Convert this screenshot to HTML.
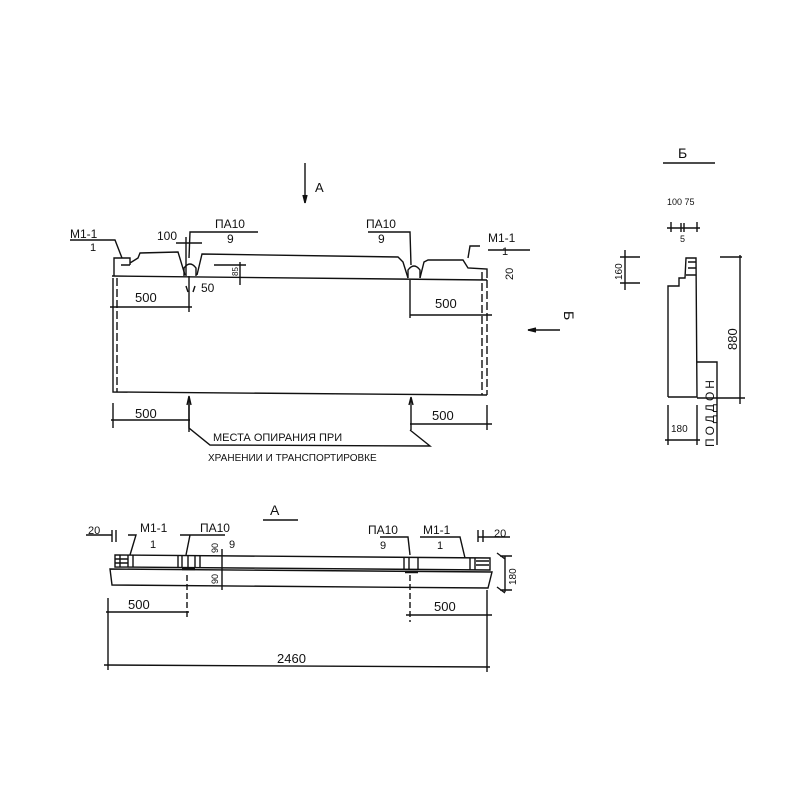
<!DOCTYPE html>
<html><head><meta charset="utf-8"><style>
html,body{margin:0;padding:0;background:#fff}
svg{display:block}
text{font-family:"Liberation Sans","DejaVu Sans",sans-serif;fill:#111}
</style></head><body>
<svg width="800" height="800" viewBox="0 0 800 800" xmlns="http://www.w3.org/2000/svg">
<g stroke="#111" stroke-width="1.4" fill="none">
<line x1="305" y1="163" x2="305" y2="203"/>
<path d="M303,195 L305,203 L307,195" fill="#111"/>
<path d="M114,276 L114,258 L130,258 L130,265 M121,265 L130,265 M130,263 L138,258 L140,253 L178,252 L185,275 M197,275 L202,254 L398,257 L403,262 L408,278 M420,278 L424,262 L428,260 L463,260 L468,268 L487,269 L487,278"/>
<path d="M184,276 L184,268 Q190,260 196,268 L196,276"/>
<path d="M408,278 L408,270 Q414,262 420,270 L420,278"/>
<path d="M112,276 L487,280"/>
<path d="M113,278 L113,392 L487,395"/>
<path d="M117,278 L117,392" stroke-dasharray="8,3"/>
<path d="M487,280 L487,395 M482,272 L482,395" stroke-dasharray="8,3"/>
<path d="M70,240 L115,240 L122,258"/>
<path d="M480,246 L470,246 L468,258"/>
<path d="M488,250 L530,250"/>
<path d="M212,232 L190,232 L189,258"/>
<path d="M212,232 L258,232"/>
<path d="M368,232 L410,232 L411,265"/>
<path d="M176,243 L202,243 M186,237 L186,276"/>
<path d="M214,265 L246,265 M240,262 L240,285"/>
<path d="M110,307 L192,307 M189,276 L189,312"/>
<path d="M186,286 L188,292 M195,286 L193,292"/>
<path d="M410,315 L492,315 M410,280 L410,318"/>
<path d="M113,403 L113,428 M111,420 L190,420 M189,398 L189,432"/>
<path d="M411,398 L411,430 M410,424 L492,424 M487,405 L487,430"/>
<path d="M189,400 L189,428 L210,445 L430,446 L410,430"/>
<path d="M187,405 L189,396 L191,405 M409,405 L411,397 L413,405"/>
<line x1="528" y1="330" x2="560" y2="330"/>
<path d="M536,328 L528,330 L536,332" fill="#111"/>
<path d="M663,163 L715,163"/>
<path d="M263,520 L298,520"/>
<path d="M115,555 L490,558 L490,570 L115,567 Z"/>
<path d="M110,569 L492,572 L488,588 L112,585 Z"/>
<path d="M120,555 L120,567 M128,555 L128,567 M133,555 L133,567 M178,556 L178,568 M182,556 L182,568 M188,556 L188,568 M195,556 L195,568 M200,556 L200,568 M404,557 L404,570 M409,557 L409,570 M418,557 L418,570 M470,558 L470,570 M475,558 L475,570"/>
<path d="M115,559 L128,559 M115,563 L128,563 M476,561 L489,561 M476,565 L489,565"/>
<path d="M182,569 L195,569 M405,572 L418,572" stroke-width="2.5"/>
<path d="M128,535 L136,535 L130,555 M180,535 L225,535 M190,535 L186,555 M380,537 L408,537 L410,555 M420,537 L460,537 L465,558"/>
<path d="M86,535 L112,535 M112,530 L112,542 M116,530 L116,542"/>
<path d="M478,537 L510,537 M478,530 L478,542 M483,530 L483,542"/>
<path d="M222,549 L222,590"/>
<path d="M187,575 L187,620" stroke-dasharray="6,3"/>
<path d="M410,575 L410,622" stroke-dasharray="6,3"/>
<path d="M108,598 L108,670 M106,612 L189,612"/>
<path d="M406,615 L492,615 M487,590 L487,672"/>
<path d="M104,665 L490,667"/>
<path d="M500,556 L505,556 L505,592 M505,556 L512,556 M500,590 L512,590 M497,553 L505,559 M497,587 L505,593"/>
<path d="M671,232 L671,222 M697,232 L697,222 M667,228 L700,228 M681,223 L681,232 M684,223 L684,232"/>
<path d="M668,397 L668,286 L679,286 L679,278 L685,278 L686,258 L696,258 L697,397 L668,397"/>
<path d="M688,262 L696,262 M688,268 L696,268 M686,275 L696,275"/>
<path d="M697,362 L717,362 L717,445"/>
<path d="M720,257 L742,257 M740,255 L740,404 M697,398 L745,398"/>
<path d="M620,257 L640,257 M620,283 L640,283 M625,250 L625,290"/>
<path d="M668,405 L668,445 M697,405 L697,445 M665,440 L700,440"/>
</g>
<g font-size="13">
<text x="315" y="192">А</text>
<text x="70" y="238" font-size="12">М1-1</text>
<text x="90" y="251" font-size="11">1</text>
<text x="157" y="240" font-size="12">100</text>
<text x="215" y="228" font-size="12">ПА10</text>
<text x="227" y="243" font-size="12">9</text>
<text x="366" y="228" font-size="12">ПА10</text>
<text x="378" y="243" font-size="12">9</text>
<text x="488" y="242" font-size="12">М1-1</text>
<text x="502" y="255" font-size="11">1</text>
<text x="513" y="280" font-size="11" transform="rotate(-90 513 280)">20</text>
<text x="238" y="276" font-size="8" transform="rotate(-90 238 276)">85</text>
<text x="201" y="292" font-size="12">50</text>
<text x="135" y="302">500</text>
<text x="435" y="308">500</text>
<text x="135" y="418">500</text>
<text x="432" y="420">500</text>
<text x="213" y="441" font-size="11">МЕСТА ОПИРАНИЯ ПРИ</text>
<text x="208" y="461" font-size="10">ХРАНЕНИИ И ТРАНСПОРТИРОВКЕ</text>
<text x="564" y="311" transform="rotate(90 564 311)" font-size="14">Б</text>
<text x="678" y="158" font-size="14">Б</text>
<text x="667" y="205" font-size="9">100 75</text>
<text x="680" y="242" font-size="9">5</text>
<text x="622" y="280" font-size="10" transform="rotate(-90 622 280)">160</text>
<text x="737" y="350" font-size="13" transform="rotate(-90 737 350)">880</text>
<text x="671" y="432" font-size="10">180</text>
<text x="714" y="447" font-size="12" letter-spacing="3" transform="rotate(-90 714 447)">ПОДДОН</text>
<text x="270" y="515" font-size="14">А</text>
<text x="88" y="534" font-size="11">20</text>
<text x="140" y="532" font-size="12">М1-1</text>
<text x="150" y="548" font-size="11">1</text>
<text x="200" y="532" font-size="12">ПА10</text>
<text x="229" y="548" font-size="11">9</text>
<text x="218" y="553" font-size="9" transform="rotate(-90 218 553)">90</text>
<text x="218" y="584" font-size="9" transform="rotate(-90 218 584)">90</text>
<text x="368" y="534" font-size="12">ПА10</text>
<text x="380" y="549" font-size="11">9</text>
<text x="423" y="534" font-size="12">М1-1</text>
<text x="437" y="549" font-size="11">1</text>
<text x="494" y="537" font-size="11">20</text>
<text x="516" y="585" font-size="10" transform="rotate(-90 516 585)">180</text>
<text x="128" y="609">500</text>
<text x="434" y="611">500</text>
<text x="277" y="663">2460</text>
</g>
</svg>
</body></html>
